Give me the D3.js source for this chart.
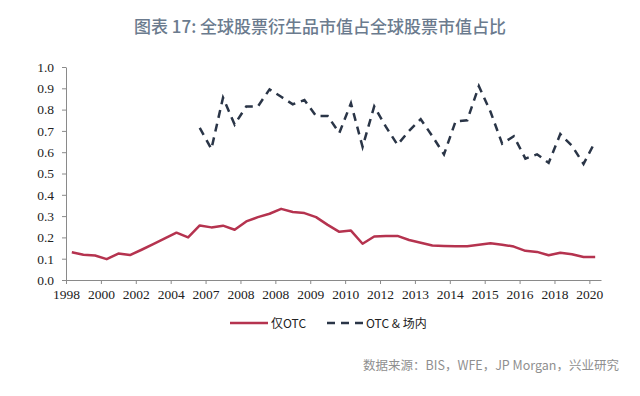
<!DOCTYPE html>
<html>
<head>
<meta charset="utf-8">
<script src="https://cdn.jsdelivr.net/npm/d3@7"></script>
<style>
  body { margin: 0; background: #fff; }
  svg { display: block; }
</style>
</head>
<body>
<div id="chart"></div>
<script>
var svgWidth = 640;
var svgHeight = 396;

var margin = { top: 67, right: 39, bottom: 116, left: 66 };
var width = svgWidth - margin.left - margin.right;
var height = svgHeight - margin.top - margin.bottom;

// half-year points, 1998 - 2020
var tickLabels = ["1998", "2000", "2002", "2004", "2007", "2008", "2008", "2009",
  "2010", "2012", "2013", "2014", "2015", "2016", "2018", "2020"];

var otcOnly = [0.130, 0.119, 0.115, 0.098, 0.124, 0.117, 0.142, 0.168, 0.195, 0.222,
  0.200, 0.256, 0.247, 0.255, 0.236, 0.275, 0.295, 0.311, 0.334, 0.319,
  0.314, 0.295, 0.259, 0.226, 0.232, 0.170, 0.204, 0.207, 0.207, 0.188,
  0.175, 0.162, 0.160, 0.159, 0.159, 0.165, 0.172, 0.166, 0.157, 0.137,
  0.132, 0.116, 0.128, 0.121, 0.108, 0.108];

var otcExchange = [null, null, null, null, null, null, null, null, null, null,
  null, 0.714, 0.615, 0.856, 0.730, 0.815, 0.815, 0.895, 0.860, 0.825,
  0.845, 0.770, 0.770, 0.690, 0.830, 0.625, 0.815, 0.720, 0.635, 0.700,
  0.755, 0.675, 0.590, 0.745, 0.750, 0.910, 0.790, 0.640, 0.675, 0.570,
  0.590, 0.550, 0.685, 0.630, 0.545, 0.650];

var yTicks = [0, 0.1, 0.2, 0.3, 0.4, 0.5, 0.6, 0.7, 0.8, 0.9, 1.0];

var svg = d3.select("#chart")
  .append("svg")
  .attr("width", svgWidth)
  .attr("height", svgHeight);

// title
svg.append("text")
  .attr("x", 320)
  .attr("y", 33)
  .attr("text-anchor", "middle")
  .style("font-family", "'Noto Sans CJK SC', 'Noto Sans', sans-serif")
  .style("font-size", "17px")
  .style("font-weight", "500")
  .style("fill", "#6b7b8e")
  .text("图表 17: 全球股票衍生品市值占全球股票市值占比");

var chartGroup = svg.append("g")
  .attr("transform", `translate(${margin.left}, ${margin.top})`);

var n = otcOnly.length;
var xScale = d3.scaleLinear().domain([0, n]).range([0, width]);
var yScale = d3.scaleLinear().domain([0, 1]).range([height, 0]);

var bottomAxis = d3.axisBottom(xScale)
  .tickValues(tickLabels.map((d, i) => i * 3))
  .tickFormat((d, i) => tickLabels[i])
  .tickSizeInner(4)
  .tickSizeOuter(0)
  .tickPadding(5);

var leftAxis = d3.axisLeft(yScale)
  .tickValues(yTicks)
  .tickFormat(d3.format(".1f"))
  .tickSizeInner(4)
  .tickSizeOuter(0)
  .tickPadding(8);

var xAxis = chartGroup.append("g")
  .attr("transform", `translate(0, ${height})`)
  .call(bottomAxis);

var yAxis = chartGroup.append("g")
  .call(leftAxis);

[xAxis, yAxis].forEach(function(ax) {
  ax.attr("font-family", null).attr("font-size", null);
  ax.selectAll("path, line").attr("stroke", "#8a8a8a").attr("stroke-width", 1);
  ax.selectAll("text")
    .attr("fill", "#222")
    .attr("font-family", "Liberation Serif, DejaVu Serif, serif")
    .attr("font-size", 13.5);
});

var line = d3.line()
  .defined(d => d != null)
  .x((d, i) => xScale(i + 0.5))
  .y(d => yScale(d));

chartGroup.append("path")
  .datum(otcOnly)
  .attr("fill", "none")
  .attr("stroke", "#b5334f")
  .attr("stroke-width", 2.5)
  .attr("stroke-linejoin", "round")
  .attr("d", line);

chartGroup.append("path")
  .datum(otcExchange)
  .attr("fill", "none")
  .attr("stroke", "#2a3547")
  .attr("stroke-width", 2.5)
  .attr("stroke-dasharray", "8,6")
  .attr("d", line);

// legend
var legend = svg.append("g").attr("transform", "translate(230, 323)");
legend.append("line")
  .attr("x1", 0).attr("x2", 38).attr("y1", 0).attr("y2", 0)
  .attr("stroke", "#b5334f").attr("stroke-width", 2.5);
legend.append("text")
  .attr("x", 41).attr("y", 5)
  .style("font-family", "'Noto Sans CJK SC', sans-serif")
  .style("font-size", "12px")
  .style("fill", "#222")
  .text("仅OTC");
legend.append("line")
  .attr("x1", 97).attr("x2", 135).attr("y1", 0).attr("y2", 0)
  .attr("stroke", "#2a3547").attr("stroke-width", 2.5)
  .attr("stroke-dasharray", "8,6");
legend.append("text")
  .attr("x", 136).attr("y", 5)
  .style("font-family", "'Noto Sans CJK SC', sans-serif")
  .style("font-size", "12px")
  .style("fill", "#222")
  .text("OTC & 场内");

// source
svg.append("text")
  .attr("x", 619)
  .attr("y", 370)
  .attr("text-anchor", "end")
  .style("font-family", "'Noto Sans CJK SC', 'Noto Sans', sans-serif")
  .style("font-size", "12.5px")
  .style("fill", "#8f8f8f")
  .text("数据来源：BIS，WFE，JP Morgan，兴业研究");
</script>
</body>
</html>
